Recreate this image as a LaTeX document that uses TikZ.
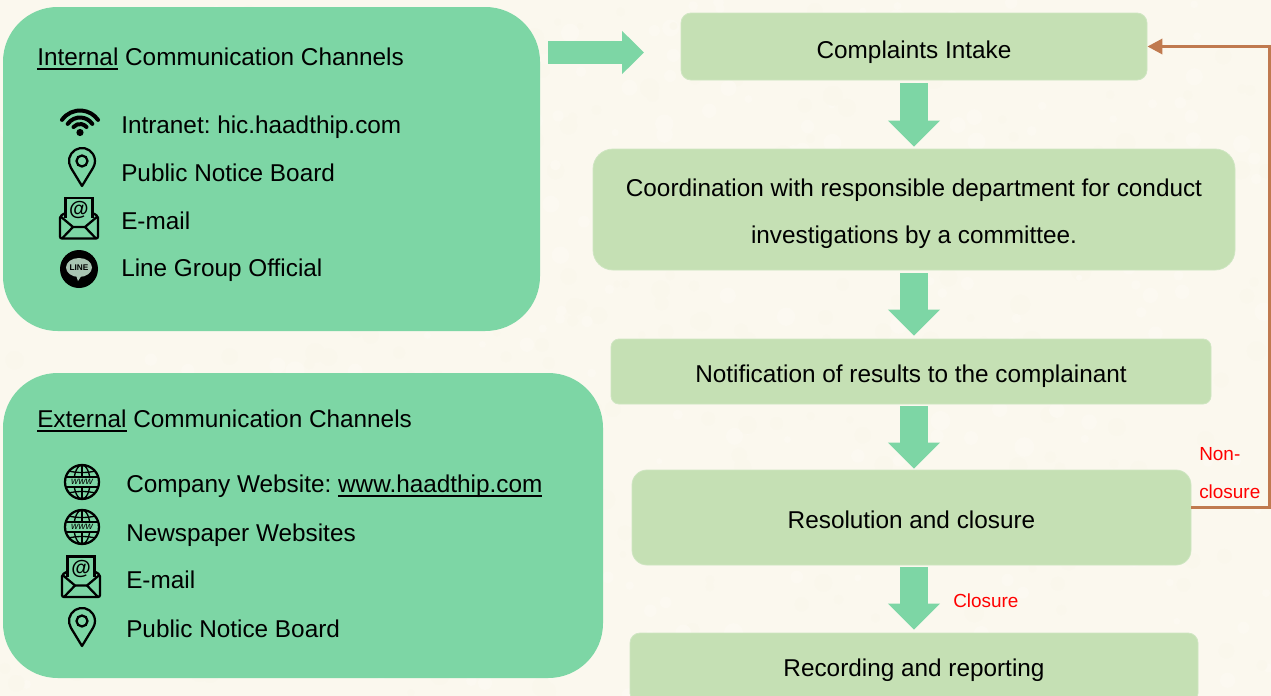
\documentclass[tikz,border=0pt]{standalone}
\usepackage{fontspec}
\setmainfont{Liberation Sans}
\frenchspacing
\usetikzlibrary{arrows.meta}
\definecolor{paper}{HTML}{FBF8EE}
\definecolor{paperlight}{HTML}{FCF9F1}
\definecolor{paperdark}{HTML}{FAF7EC}
\definecolor{panelgreen}{HTML}{7DD6A5}
\definecolor{flowgreen}{HTML}{C5E0B4}
\definecolor{flowedge}{HTML}{CFE6C2}
\definecolor{bubblegrey}{HTML}{A9C4B2}
\definecolor{loopbrown}{HTML}{C07A4F}
\newcommand{\lineul}[1]{\setbox0\hbox{#1}\rlap{\rule[-3.6pt]{\wd0}{1.5pt}}\box0\relax}
\tikzset{
  panelbox/.style={rectangle,rounded corners=41pt,fill=panelgreen,inner sep=0pt},
  flowbox/.style={rectangle,fill=flowgreen,draw=flowedge,line width=0.6pt,inner sep=0pt,text depth=0pt,font=\fontsize{18.25}{35.25}\selectfont,align=center},
  labeltext/.style={anchor=base west,inner sep=0pt,font=\fontsize{18.25}{22}\selectfont},
  redtext/.style={anchor=base west,inner sep=0pt,text=red,font=\fontsize{14.2}{17}\selectfont},
  downarrow/.style={panelgreen,line width=21pt,-{Triangle[length=19.5pt,width=38pt]}},
  sidearrow/.style={panelgreen,line width=17.25pt,-{Triangle[length=16.5pt,width=31.5pt]}},
  looparrow/.style={loopbrown,line width=2.5pt,-{Triangle[length=11.25pt,width=11.25pt]}},
  iconline/.style={black,line width=1.7pt},
  pinicon/.pic={
    \draw[iconline,line join=round] (0,25) -- (148.7:13) arc[start angle=148.7,end angle=391.3,radius=13] -- cycle;
    \draw[iconline] (0,0) circle[radius=5.5];
  },
  wifiicon/.pic={
    \draw[black,line width=3pt,line cap=round] (215:22) arc[start angle=215,end angle=325,radius=22];
    \draw[black,line width=3pt,line cap=round] (215:15) arc[start angle=215,end angle=325,radius=15];
    \draw[black,line width=3pt,line cap=round] (220:8.5) arc[start angle=220,end angle=320,radius=8.5];
    \fill[black] (0,0) circle[radius=3.6];
  },
  mailicon/.pic={
    \draw[iconline] (-13.5,-1) -- (-13.5,-21) -- (13.5,-21) -- (13.5,-1);
    \draw[iconline,rounded corners=1.5pt] (-13.5,-6) -- (-19,-3) -- (-19,19.5) -- (19,19.5) -- (19,-3) -- (13.5,-6);
    \draw[iconline,line join=round] (-19,-3) -- (-6,8) -- (6,8) -- (19,-3);
    \draw[iconline] (-17,19.5) -- (-6,8) (6,8) -- (17,19.5);
    \node[inner sep=0pt,font=\fontsize{15}{15}\selectfont\bfseries] (mailat) at (0,-9) {@};
  },
  lineicon/.pic={
    \fill[black] (0,0) circle[radius=19];
    \fill[bubblegrey] (0,-1.5) ellipse[x radius=13,y radius=9.5];
    \fill[bubblegrey] (-3,6) -- (3,6) -- (-1,12) -- cycle;
    \node[inner sep=0pt,font=\fontsize{6.2}{6.2}\selectfont\bfseries] (linemark) at (0,-1.5) {LINE};
  },
  globeicon/.pic={
    \draw[iconline] (0,0) circle[radius=17];
    \draw[black,line width=1pt] (0,0) ellipse[x radius=8,y radius=17];
    \draw[black,line width=1pt] (0,-17) -- (0,-5) (0,5) -- (0,17);
    \draw[black,line width=1pt] (-13,-11) .. controls (-6,-9) and (6,-9) .. (13,-11);
    \draw[black,line width=1pt] (-13,11) .. controls (-6,9) and (6,9) .. (13,11);
    \draw[black,line width=1pt] (-16.5,-5) -- (16.5,-5) (-16.5,5) -- (16.5,5);
    \fill[panelgreen] (-13.5,-4.2) rectangle (13.5,4.2);
    \node[inner sep=0pt,font=\fontsize{7.5}{7.5}\selectfont\itshape] (wwwmark) at (0,-0.5) {www};
  },
}
\begin{document}
\begin{tikzpicture}[x=0.75pt,y=-0.75pt]
\fill[paper] (0,0) rectangle (1271,696);
\useasboundingbox (0,0) rectangle (1271,696);
\clip (0,0) rectangle (1271,696);
\pgfmathsetseed{7}
\foreach \i in {1,...,700}{
  \pgfmathsetmacro{\px}{rnd*1271}
  \pgfmathsetmacro{\py}{rnd*696}
  \pgfmathsetmacro{\pr}{3+rnd*7}
  \pgfmathparse{rnd>0.5?"paperlight":"paperdark"}
  \fill[\pgfmathresult] (\px,\py) circle[radius=\pr];
}

\node[panelbox,minimum width=402.75pt,minimum height=243pt] (panelA) at (271.5,169) {};
\node[panelbox,minimum width=450pt,minimum height=228.75pt] (panelB) at (303,525.5) {};

\node[labeltext] (titleA) at (37,65) {\lineul{Internal} Communication Channels};
\node[labeltext] (a1) at (121,133) {Intranet: hic.haadthip.com};
\node[labeltext] (a2) at (121,181) {Public Notice Board};
\node[labeltext] (a3) at (121,229) {E-mail};
\node[labeltext] (a4) at (121,276) {Line Group Official};

\node[labeltext] (titleB) at (37,427) {\lineul{External} Communication Channels};
\node[labeltext] (b1) at (126,492) {Company Website: \lineul{www.haadthip.com}};
\node[labeltext] (b2) at (126,541) {Newspaper Websites};
\node[labeltext] (b3) at (126,588) {E-mail};
\node[labeltext] (b4) at (126,637) {Public Notice Board};

\pic at (80,132.5) {wifiicon};
\pic at (82,161) {pinicon};
\pic at (79,219) {mailicon};
\pic at (79,269) {lineicon};
\pic at (82,482) {globeicon};
\pic at (82,527) {globeicon};
\pic at (81,577.5) {mailicon};
\pic at (82,621) {pinicon};

\node[flowbox,rounded corners=7.5pt,minimum width=349.5pt,minimum height=50.25pt,text height=17.25pt] (intake) at (914,46.5) {Complaints Intake};
\node[flowbox,rounded corners=15pt,minimum width=481.5pt,minimum height=90.75pt] (coord) at (914,209.5) {\rule{0pt}{16pt}Coordination with responsible department for conduct\\investigations by a committee.};
\node[flowbox,rounded corners=6pt,minimum width=450pt,minimum height=48.75pt,text height=16.5pt] (notif) at (911,371.5) {Notification of results to the complainant};
\node[flowbox,rounded corners=11.25pt,minimum width=419.25pt,minimum height=71.25pt,text height=15.75pt] (resol) at (911.5,517.5) {Resolution and closure};
\node[flowbox,rounded corners=7.5pt,minimum width=426pt,minimum height=52.5pt,text height=12pt] (record) at (914,668) {Recording and reporting};

\coordinate (spine) at (914,0);
\coordinate (sideS) at (548,52.5);
\coordinate (sideE) at (644,52.5);
\coordinate (turn) at (1269.5,46.5);

\draw[sidearrow] (sideS) -- (sideE);
\draw[downarrow,shorten <=2.25pt,shorten >=1.5pt] (intake.south -| spine) -- (coord.north -| spine);
\draw[downarrow,shorten <=2.25pt,shorten >=2.25pt] (coord.south -| spine) -- (notif.north -| spine);
\draw[downarrow,shorten <=1.5pt,shorten >=0.75pt] (notif.south -| spine) -- (resol.north -| spine);
\draw[downarrow,shorten <=1.5pt,shorten >=2.25pt] (resol.south -| spine) -- (record.north -| spine);
\draw[looparrow] ([yshift=7.5pt]resol.east) -| (turn) -- (intake.east);

\node[redtext] (nc1) at (1199,460) {Non-};
\node[redtext] (nc2) at (1199,498) {closure};
\node[redtext] (cl) at (953,607) {Closure};
\end{tikzpicture}
\end{document}
